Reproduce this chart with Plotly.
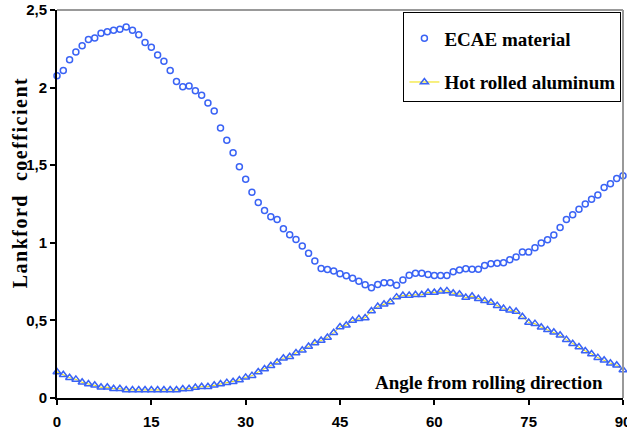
import plotly.graph_objects as go

angles = list(range(0, 91))

ecae = [2.077, 2.11, 2.18, 2.23, 2.27, 2.31, 2.32, 2.35, 2.36, 2.37,
        2.376, 2.39, 2.37, 2.34, 2.29, 2.26, 2.21, 2.17, 2.11, 2.04,
        2.006, 2.01, 1.98, 1.95, 1.90, 1.85, 1.74, 1.66, 1.58, 1.49,
        1.41, 1.325, 1.26, 1.208, 1.168, 1.15, 1.09, 1.052, 1.021, 0.98,
        0.932, 0.882, 0.834, 0.828, 0.819, 0.80, 0.787, 0.772, 0.753, 0.729,
        0.71, 0.731, 0.742, 0.742, 0.727, 0.761, 0.791, 0.804, 0.804, 0.796,
        0.789, 0.789, 0.789, 0.813, 0.824, 0.832, 0.830, 0.830, 0.854, 0.865,
        0.869, 0.871, 0.890, 0.908, 0.94, 0.94, 0.968, 0.998, 1.019, 1.05,
        1.099, 1.15, 1.18, 1.216, 1.25, 1.28, 1.308, 1.357, 1.381, 1.415,
        1.432]

hot_rolled = [0.168, 0.15, 0.131, 0.12, 0.101, 0.09, 0.082, 0.069, 0.069, 0.06,
              0.06, 0.052, 0.052, 0.052, 0.052, 0.052, 0.052, 0.052, 0.052, 0.052,
              0.058, 0.06, 0.067, 0.073, 0.073, 0.082, 0.09, 0.099, 0.105, 0.116,
              0.133, 0.144, 0.168, 0.187, 0.208, 0.23, 0.256, 0.266, 0.29, 0.307,
              0.332, 0.354, 0.37, 0.39, 0.42, 0.458, 0.469, 0.499, 0.51, 0.516,
              0.561, 0.589, 0.604, 0.619, 0.65, 0.66, 0.66, 0.665, 0.665, 0.68,
              0.68, 0.688, 0.69, 0.675, 0.669, 0.647, 0.656, 0.639, 0.626, 0.615,
              0.595, 0.576, 0.566, 0.557, 0.523, 0.486, 0.479, 0.456, 0.439, 0.424,
              0.404, 0.376, 0.35, 0.329, 0.303, 0.284, 0.26, 0.243, 0.224, 0.211,
              0.18]

x_ticks = [0, 15, 30, 45, 60, 75, 90]
x_tick_labels = ["0", "15", "30", "45", "60", "75", "90"]
y_ticks = [0, 0.5, 1, 1.5, 2, 2.5]
y_tick_labels = ["0", "0,5", "1", "1,5", "2", "2,5"]

series_names = ["ECAE material", "Hot rolled aluminum"]

BLUE = "#3a63f5"
SERIF = "Liberation Serif"
NARROW = "Liberation Sans Narrow, Liberation Sans"

fig = go.Figure()
fig.add_trace(go.Scatter(
    x=angles, y=ecae, mode="markers", name=series_names[0],
    legendgroup="a", cliponaxis=False,
    marker=dict(symbol="circle-open", size=6, color=BLUE, line=dict(width=1.5, color=BLUE)),
))
fig.add_trace(go.Scatter(
    x=angles, y=hot_rolled, mode="lines+markers", name=series_names[1],
    legendgroup="b", cliponaxis=False,
    line=dict(color="#f0e000", width=1),
    marker=dict(symbol="triangle-up-open", size=7, color=BLUE, line=dict(width=1.5, color=BLUE)),
))

fig.update_layout(
    width=627, height=434,
    margin=dict(l=57, r=4, t=10, b=36),
    paper_bgcolor="white", plot_bgcolor="white",
    showlegend=True,
    legend=dict(
        x=0.612, y=0.995, xanchor="left", yanchor="top",
        bordercolor="black", borderwidth=1, bgcolor="white",
        font=dict(family=SERIF, size=19, color="black", weight="bold"),
        title=dict(text=" ", font=dict(size=5)),
        tracegroupgap=16, itemwidth=30,
    ),
    xaxis=dict(
        range=[0, 90], tickvals=x_ticks, ticktext=x_tick_labels, automargin=False,
        showgrid=False, zeroline=False, showline=True, linecolor="black", linewidth=2,
        ticks="outside", ticklen=5, tickwidth=2, tickcolor="black",
        tickfont=dict(family=NARROW, size=15, color="black", weight="bold"),
        ticklabelstandoff=4, ticklabeloverflow="allow",
    ),
    yaxis=dict(
        range=[0, 2.5], tickvals=y_ticks, ticktext=y_tick_labels, automargin=False,
        showgrid=False, zeroline=False, showline=True, linecolor="black", linewidth=2,
        ticks="outside", ticklen=5, tickwidth=2, tickcolor="black",
        tickfont=dict(family=NARROW, size=15, color="black", weight="bold"),
        ticklabeloverflow="allow",
    ),
    shapes=[
        dict(type="line", xref="paper", yref="paper", x0=0, x1=1, y0=1, y1=1,
             line=dict(color="#999999", width=2)),
        dict(type="line", xref="paper", yref="paper", x0=1, x1=1, y0=0, y1=1,
             line=dict(color="#999999", width=2)),
    ],
    annotations=[
        dict(text="Angle from rolling direction", xref="paper", yref="paper",
             x=0.968, y=0.04, xanchor="right", yanchor="middle", showarrow=False,
             font=dict(family=SERIF, size=19, color="black", weight="bold")),
        dict(text='<span style="letter-spacing:1.5px">Lankford  coefficient</span>',
             xref="paper", yref="paper", x=-0.066, y=0.555, xanchor="center", yanchor="middle",
             textangle=-90, showarrow=False,
             font=dict(family=SERIF, size=20, color="black", weight="bold")),
    ],
)

fig.write_html("out.html", config={"displayModeBar": False},
               post_script="document.body.style.margin='0';document.body.style.overflow='hidden';")
